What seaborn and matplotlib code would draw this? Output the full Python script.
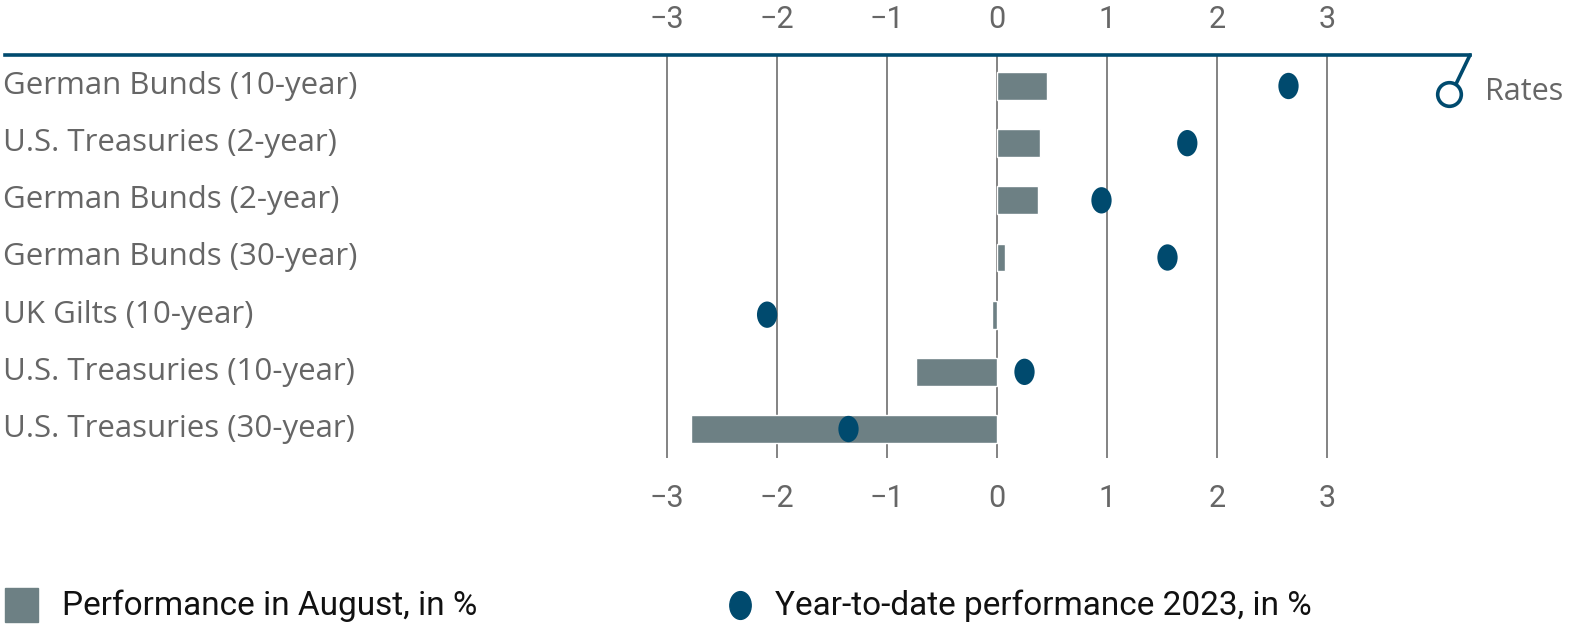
import numpy as np
import matplotlib
matplotlib.use("Agg")
import matplotlib.pyplot as plt
import seaborn as sns
import pandas as pd
from matplotlib.path import Path

# data
categories = [
    "German Bunds (10-year)",
    "U.S. Treasuries (2-year)",
    "German Bunds (2-year)",
    "German Bunds (30-year)",
    "UK Gilts (10-year)",
    "U.S. Treasuries (10-year)",
    "U.S. Treasuries (30-year)",
]
august_perf = [0.45, 0.39, 0.37, 0.07, -0.05, -0.74, -2.78]
ytd_perf = [2.65, 1.73, 0.95, 1.55, -2.09, 0.25, -1.35]
tick_values = [-3, -2, -1, 0, 1, 2, 3]
tick_labels = ["\u22123", "\u22122", "\u22121", "0", "1", "2", "3"]

BAR_COLOR = "#6d8084"
DOT_COLOR = "#004a6e"
TEXT_GRAY = "#666666"
GRID_GRAY = "#7a7a7a"

sns.set_style("white")
plt.rcParams["font.family"] = ["Roboto", "DejaVu Sans"]
LABEL_FONT = ["Open Sans", "DejaVu Sans"]

df = pd.DataFrame({"name": categories, "aug": august_perf, "ytd": ytd_perf})
df["pos"] = np.arange(len(df))

W, H = 1574, 627
fig = plt.figure(figsize=(W / 100, H / 100), dpi=100)

# axes placed in pixel coords: x 5..1470, y 55..458 (from top)
ax = fig.add_axes([5 / W, 1 - 458 / H, (1470 - 5) / W, (458 - 55) / H])
x0, unit = 997, 110
ax.set_xlim((5 - x0) / unit, (1470 - x0) / unit)
row0, step = 86, 57.2
ax.set_ylim(6 + (458 - 429) / step, -(row0 - 55) / step)

# elliptical dot marker (taller than wide, as in the reference)
circ = Path.unit_circle()
ellipse = Path(circ.vertices * np.array([1.0, 1.3]), circ.codes)

sns.barplot(data=df, x="aug", y="pos", orient="h", native_scale=True,
            color=BAR_COLOR, width=28 / step, saturation=1, ax=ax)
sns.scatterplot(data=df, x="ytd", y="pos", marker=ellipse, s=360,
                color=DOT_COLOR, edgecolor="none", ax=ax, zorder=5)

for v in tick_values:
    ax.axvline(v, color=GRID_GRAY, lw=1.3, zorder=0)

for spine in ["left", "right", "bottom"]:
    ax.spines[spine].set_visible(False)
ax.spines["top"].set_color(DOT_COLOR)
ax.spines["top"].set_linewidth(2.6)

ax.set_xticks(tick_values)
ax.set_xticklabels(tick_labels)
ax.set_yticks([])
ax.set_xlabel("")
ax.set_ylabel("")
ax.tick_params(axis="x", length=0, labelsize=22, labelcolor=TEXT_GRAY, pad=19)

top = ax.secondary_xaxis("top")
top.set_xticks(tick_values)
top.set_xticklabels(tick_labels)
top.tick_params(axis="x", length=0, labelsize=22, labelcolor=TEXT_GRAY, pad=15)
top.spines["top"].set_visible(False)

# category labels on the left
for i, name in enumerate(categories):
    ax.text(-2 / (1470 - 5), i, name, transform=ax.get_yaxis_transform(),
            ha="left", va="center", fontsize=22.5, color=TEXT_GRAY,
            family=LABEL_FONT)

# the "Rates" flag at the end of the top line
fig.add_artist(plt.Line2D([1470 / W, 1456 / W], [1 - 55 / H, 1 - 84 / H],
                          color=DOT_COLOR, lw=2.6, transform=fig.transFigure))
fig.add_artist(plt.Line2D([1449 / W], [1 - 94 / H], marker="o", ms=17,
                          mfc="white", mec=DOT_COLOR, mew=2.6, lw=0,
                          transform=fig.transFigure))
fig.text(1485 / W, 1 - 92 / H, "Rates", ha="left", va="center",
         fontsize=22, color=TEXT_GRAY, family=LABEL_FONT)

# legend row at the bottom
fig.add_artist(plt.Rectangle((5 / W, 1 - 622 / H), 33 / W, 34 / H,
                             color=BAR_COLOR, transform=fig.transFigure))
fig.text(62 / W, 1 - 606 / H, "Performance in August, in %", ha="left",
         va="center", fontsize=24, color="#111111")
fig.add_artist(plt.Line2D([740 / W], [1 - 605 / H], marker=ellipse, ms=20,
                          color=DOT_COLOR, lw=0, transform=fig.transFigure))
fig.text(775 / W, 1 - 606 / H, "Year-to-date performance 2023, in %",
         ha="left", va="center", fontsize=24, color="#111111")

fig.savefig("out.png", dpi=100)
